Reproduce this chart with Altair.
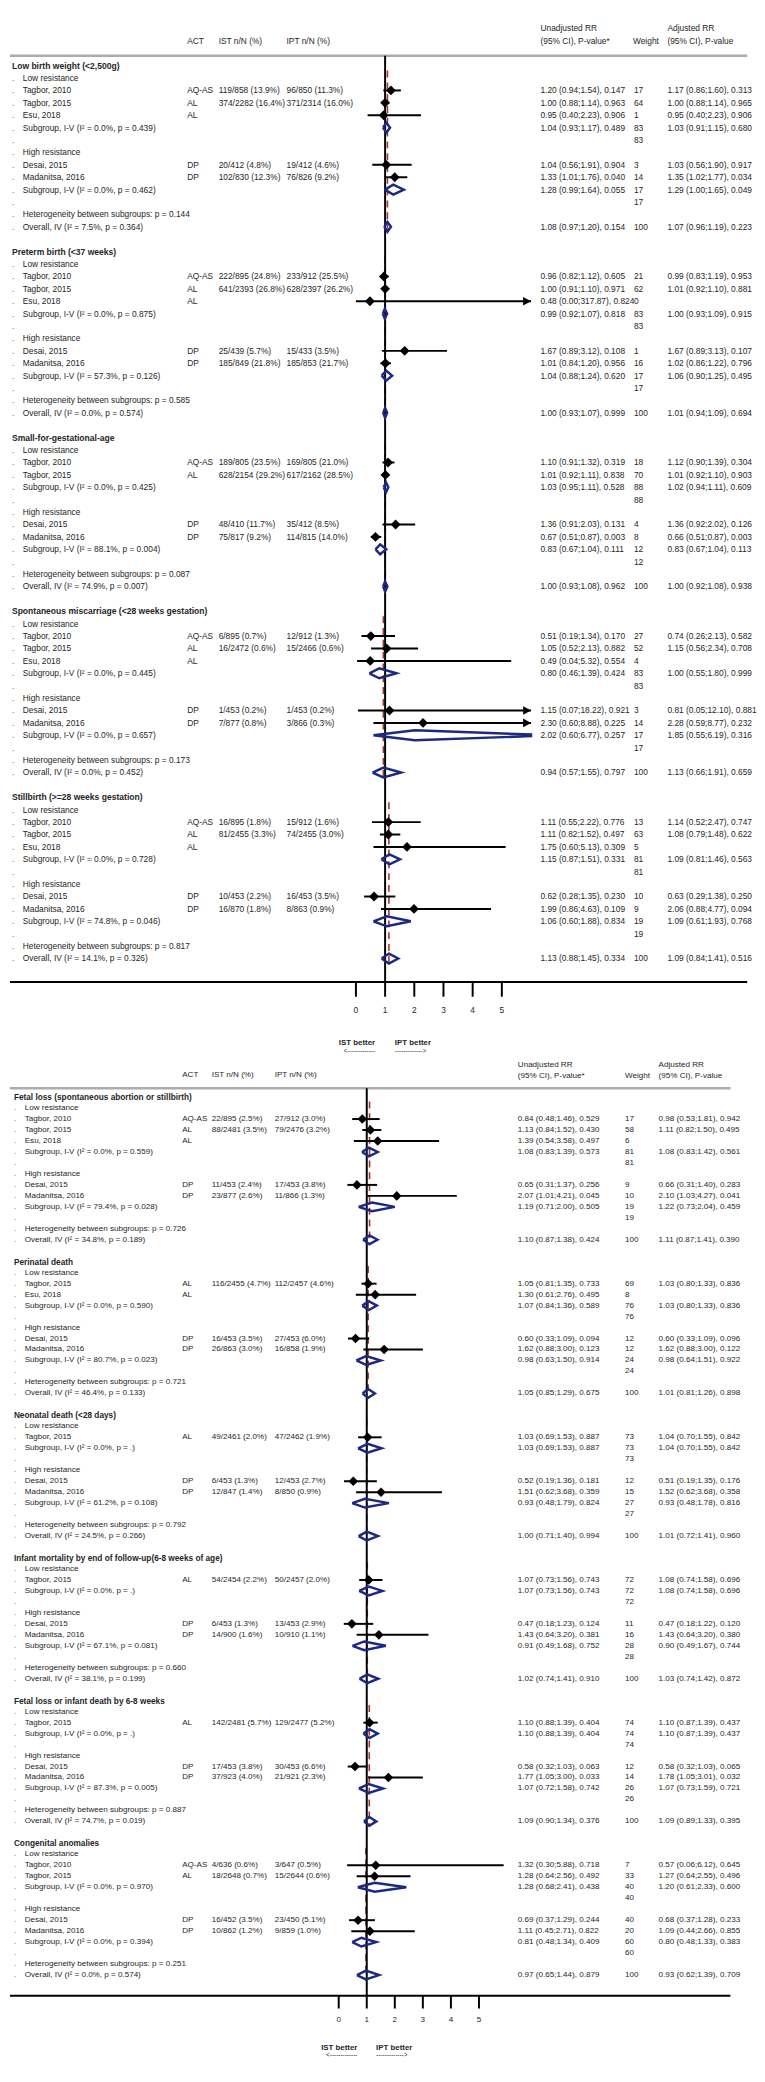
import altair as alt
import pandas as pd

FONT = "Liberation Sans"
INK = "#262626"
NAVY = "#1b2a80"
RED = "#a83232"

# ---------------- data: top panel ----------------
top_lbw = [
    ("title", "Low birth weight (<2,500g)"),
    ("group", "Low resistance"),
    ("study", "Tagbor, 2010", "AQ-AS", "119/858 (13.9%)", "96/850 (11.3%)", 1.20, 0.94, 1.54, "0.147", "17", "1.17 (0.86;1.60), 0.313"),
    ("study", "Tagbor, 2015", "AL", "374/2282 (16.4%)", "371/2314 (16.0%)", 1.00, 0.88, 1.14, "0.963", "64", "1.00 (0.88;1.14), 0.965"),
    ("study", "Esu, 2018", "AL", "", "", 0.95, 0.40, 2.23, "0.906", "1", "0.95 (0.40;2.23), 0.906"),
    ("sub", "Subgroup, I-V (I² = 0.0%, p = 0.439)", 1.04, 0.93, 1.17, "0.489", "83", "1.03 (0.91;1.15), 0.680"),
    ("blank", "83"),
    ("group", "High resistance"),
    ("study", "Desai, 2015", "DP", "20/412 (4.8%)", "19/412 (4.6%)", 1.04, 0.56, 1.91, "0.904", "3", "1.03 (0.56;1.90), 0.917"),
    ("study", "Madanitsa, 2016", "DP", "102/830 (12.3%)", "76/826 (9.2%)", 1.33, 1.01, 1.76, "0.040", "14", "1.35 (1.02;1.77), 0.034"),
    ("sub", "Subgroup, I-V (I² = 0.0%, p = 0.462)", 1.28, 0.99, 1.64, "0.055", "17", "1.29 (1.00;1.65), 0.049"),
    ("blank", "17"),
    ("het", "Heterogeneity between subgroups: p = 0.144"),
    ("overall", "Overall, IV (I² = 7.5%, p = 0.364)", 1.08, 0.97, 1.20, "0.154", "100", "1.07 (0.96;1.19), 0.223"),
    ("gap",),
]
top_preterm = [
    ("title", "Preterm birth (<37 weeks)"),
    ("group", "Low resistance"),
    ("study", "Tagbor, 2010", "AQ-AS", "222/895 (24.8%)", "233/912 (25.5%)", 0.96, 0.82, 1.12, "0.605", "21", "0.99 (0.83;1.19), 0.953"),
    ("study", "Tagbor, 2015", "AL", "641/2393 (26.8%)", "628/2397 (26.2%)", 1.00, 0.91, 1.10, "0.971", "62", "1.01 (0.92;1.10), 0.881"),
    ("study", "Esu, 2018", "AL", "", "", 0.48, 0.00, 317.87, "0.824", "0", ""),
    ("sub", "Subgroup, I-V (I² = 0.0%, p = 0.875)", 0.99, 0.92, 1.07, "0.818", "83", "1.00 (0.93;1.09), 0.915"),
    ("blank", "83"),
    ("group", "High resistance"),
    ("study", "Desai, 2015", "DP", "25/439 (5.7%)", "15/433 (3.5%)", 1.67, 0.89, 3.12, "0.108", "1", "1.67 (0.89;3.13), 0.107"),
    ("study", "Madanitsa, 2016", "DP", "185/849 (21.8%)", "185/853 (21.7%)", 1.01, 0.84, 1.20, "0.956", "16", "1.02 (0.86;1.22), 0.796"),
    ("sub", "Subgroup, I-V (I² = 57.3%, p = 0.126)", 1.04, 0.88, 1.24, "0.620", "17", "1.06 (0.90;1.25), 0.495"),
    ("blank", "17"),
    ("het", "Heterogeneity between subgroups: p = 0.585"),
    ("overall", "Overall, IV (I² = 0.0%, p = 0.574)", 1.00, 0.93, 1.07, "0.999", "100", "1.01 (0.94;1.09), 0.694"),
    ("gap",),
]
top_sga = [
    ("title", "Small-for-gestational-age"),
    ("group", "Low resistance"),
    ("study", "Tagbor, 2010", "AQ-AS", "189/805 (23.5%)", "169/805 (21.0%)", 1.10, 0.91, 1.32, "0.319", "18", "1.12 (0.90;1.39), 0.304"),
    ("study", "Tagbor, 2015", "AL", "628/2154 (29.2%)", "617/2162 (28.5%)", 1.01, 0.92, 1.11, "0.838", "70", "1.01 (0.92;1.10), 0.903"),
    ("sub", "Subgroup, I-V (I² = 0.0%, p = 0.425)", 1.03, 0.95, 1.11, "0.528", "88", "1.02 (0.94;1.11), 0.609"),
    ("blank", "88"),
    ("group", "High resistance"),
    ("study", "Desai, 2015", "DP", "48/410 (11.7%)", "35/412 (8.5%)", 1.36, 0.91, 2.03, "0.131", "4", "1.36 (0.92;2.02), 0.126"),
    ("study", "Madanitsa, 2016", "DP", "75/817 (9.2%)", "114/815 (14.0%)", 0.67, 0.51, 0.87, "0.003", "8", "0.66 (0.51;0.87), 0.003"),
    ("sub", "Subgroup, I-V (I² = 88.1%, p = 0.004)", 0.83, 0.67, 1.04, "0.111", "12", "0.83 (0.67;1.04), 0.113"),
    ("blank", "12"),
    ("het", "Heterogeneity between subgroups: p = 0.087"),
    ("overall", "Overall, IV (I² = 74.9%, p = 0.007)", 1.00, 0.93, 1.08, "0.962", "100", "1.00 (0.92;1.08), 0.938"),
    ("gap",),
]
top_spont = [
    ("title", "Spontaneous miscarriage (<28 weeks gestation)"),
    ("group", "Low resistance"),
    ("study", "Tagbor, 2010", "AQ-AS", "6/895 (0.7%)", "12/912 (1.3%)", 0.51, 0.19, 1.34, "0.170", "27", "0.74 (0.26;2.13), 0.582"),
    ("study", "Tagbor, 2015", "AL", "16/2472 (0.6%)", "15/2466 (0.6%)", 1.05, 0.52, 2.13, "0.882", "52", "1.15 (0.56;2.34), 0.708"),
    ("study", "Esu, 2018", "AL", "", "", 0.49, 0.04, 5.32, "0.554", "4", ""),
    ("sub", "Subgroup, I-V (I² = 0.0%, p = 0.445)", 0.80, 0.46, 1.39, "0.424", "83", "1.00 (0.55;1.80), 0.999"),
    ("blank", "83"),
    ("group", "High resistance"),
    ("study", "Desai, 2015", "DP", "1/453 (0.2%)", "1/453 (0.2%)", 1.15, 0.07, 18.22, "0.921", "3", "0.81 (0.05;12.10), 0.881"),
    ("study", "Madanitsa, 2016", "DP", "7/877 (0.8%)", "3/866 (0.3%)", 2.30, 0.60, 8.88, "0.225", "14", "2.28 (0.59;8.77), 0.232"),
    ("sub", "Subgroup, I-V (I² = 0.0%, p = 0.657)", 2.02, 0.60, 6.77, "0.257", "17", "1.85 (0.55;6.19), 0.316"),
    ("blank", "17"),
    ("het", "Heterogeneity between subgroups: p = 0.173"),
    ("overall", "Overall, IV (I² = 0.0%, p = 0.452)", 0.94, 0.57, 1.55, "0.797", "100", "1.13 (0.66;1.91), 0.659"),
    ("gap",),
]
top_still = [
    ("title", "Stillbirth (>=28 weeks gestation)"),
    ("group", "Low resistance"),
    ("study", "Tagbor, 2010", "AQ-AS", "16/895 (1.8%)", "15/912 (1.6%)", 1.11, 0.55, 2.22, "0.776", "13", "1.14 (0.52;2.47), 0.747"),
    ("study", "Tagbor, 2015", "AL", "81/2455 (3.3%)", "74/2455 (3.0%)", 1.11, 0.82, 1.52, "0.497", "63", "1.08 (0.79;1.48), 0.622"),
    ("study", "Esu, 2018", "AL", "", "", 1.75, 0.60, 5.13, "0.309", "5", ""),
    ("sub", "Subgroup, I-V (I² = 0.0%, p = 0.728)", 1.15, 0.87, 1.51, "0.331", "81", "1.09 (0.81;1.46), 0.563"),
    ("blank", "81"),
    ("group", "High resistance"),
    ("study", "Desai, 2015", "DP", "10/453 (2.2%)", "16/453 (3.5%)", 0.62, 0.28, 1.35, "0.230", "10", "0.63 (0.29;1.38), 0.250"),
    ("study", "Madanitsa, 2016", "DP", "16/870 (1.8%)", "8/863 (0.9%)", 1.99, 0.86, 4.63, "0.109", "9", "2.06 (0.88;4.77), 0.094"),
    ("sub", "Subgroup, I-V (I² = 74.8%, p = 0.046)", 1.06, 0.60, 1.88, "0.834", "19", "1.09 (0.61;1.93), 0.768"),
    ("blank", "19"),
    ("het", "Heterogeneity between subgroups: p = 0.817"),
    ("overall", "Overall, IV (I² = 14.1%, p = 0.326)", 1.13, 0.88, 1.45, "0.334", "100", "1.09 (0.84;1.41), 0.516"),
]

# ---------------- data: bottom panel ----------------
bot_fetal = [
    ("title", "Fetal loss (spontaneous abortion or stillbirth)"),
    ("group", "Low resistance"),
    ("study", "Tagbor, 2010", "AQ-AS", "22/895 (2.5%)", "27/912 (3.0%)", 0.84, 0.48, 1.46, "0.529", "17", "0.98 (0.53;1.81), 0.942"),
    ("study", "Tagbor, 2015", "AL", "88/2481 (3.5%)", "79/2476 (3.2%)", 1.13, 0.84, 1.52, "0.430", "58", "1.11 (0.82;1.50), 0.495"),
    ("study", "Esu, 2018", "AL", "", "", 1.39, 0.54, 3.58, "0.497", "6", ""),
    ("sub", "Subgroup, I-V (I² = 0.0%, p = 0.559)", 1.08, 0.83, 1.39, "0.573", "81", "1.08 (0.83;1.42), 0.561"),
    ("blank", "81"),
    ("group", "High resistance"),
    ("study", "Desai, 2015", "DP", "11/453 (2.4%)", "17/453 (3.8%)", 0.65, 0.31, 1.37, "0.256", "9", "0.66 (0.31;1.40), 0.283"),
    ("study", "Madanitsa, 2016", "DP", "23/877 (2.6%)", "11/866 (1.3%)", 2.07, 1.01, 4.21, "0.045", "10", "2.10 (1.03;4.27), 0.041"),
    ("sub", "Subgroup, I-V (I² = 79.4%, p = 0.028)", 1.19, 0.71, 2.00, "0.505", "19", "1.22 (0.73;2.04), 0.459"),
    ("blank", "19"),
    ("het", "Heterogeneity between subgroups: p = 0.726"),
    ("overall", "Overall, IV (I² = 34.8%, p = 0.189)", 1.10, 0.87, 1.38, "0.424", "100", "1.11 (0.87;1.41), 0.390"),
    ("gap",),
]
bot_peri = [
    ("title", "Perinatal death"),
    ("group", "Low resistance"),
    ("study", "Tagbor, 2015", "AL", "116/2455 (4.7%)", "112/2457 (4.6%)", 1.05, 0.81, 1.35, "0.733", "69", "1.03 (0.80;1.33), 0.836"),
    ("study", "Esu, 2018", "AL", "", "", 1.30, 0.61, 2.76, "0.495", "8", ""),
    ("sub", "Subgroup, I-V (I² = 0.0%, p = 0.590)", 1.07, 0.84, 1.36, "0.589", "76", "1.03 (0.80;1.33), 0.836"),
    ("blank", "76"),
    ("group", "High resistance"),
    ("study", "Desai, 2015", "DP", "16/453 (3.5%)", "27/453 (6.0%)", 0.60, 0.33, 1.09, "0.094", "12", "0.60 (0.33;1.09), 0.096"),
    ("study", "Madanitsa, 2016", "DP", "26/863 (3.0%)", "16/858 (1.9%)", 1.62, 0.88, 3.00, "0.123", "12", "1.62 (0.88;3.00), 0.122"),
    ("sub", "Subgroup, I-V (I² = 80.7%, p = 0.023)", 0.98, 0.63, 1.50, "0.914", "24", "0.98 (0.64;1.51), 0.922"),
    ("blank", "24"),
    ("het", "Heterogeneity between subgroups: p = 0.721"),
    ("overall", "Overall, IV (I² = 46.4%, p = 0.133)", 1.05, 0.85, 1.29, "0.675", "100", "1.01 (0.81;1.26), 0.898"),
    ("gap",),
]
bot_neo = [
    ("title", "Neonatal death (<28 days)"),
    ("group", "Low resistance"),
    ("study", "Tagbor, 2015", "AL", "49/2461 (2.0%)", "47/2462 (1.9%)", 1.03, 0.69, 1.53, "0.887", "73", "1.04 (0.70;1.55), 0.842"),
    ("sub", "Subgroup, I-V (I² = 0.0%, p = .)", 1.03, 0.69, 1.53, "0.887", "73", "1.04 (0.70;1.55), 0.842"),
    ("blank", "73"),
    ("group", "High resistance"),
    ("study", "Desai, 2015", "DP", "6/453 (1.3%)", "12/453 (2.7%)", 0.52, 0.19, 1.36, "0.181", "12", "0.51 (0.19;1.35), 0.176"),
    ("study", "Madanitsa, 2016", "DP", "12/847 (1.4%)", "8/850 (0.9%)", 1.51, 0.62, 3.68, "0.359", "15", "1.52 (0.62;3.68), 0.358"),
    ("sub", "Subgroup, I-V (I² = 61.2%, p = 0.108)", 0.93, 0.48, 1.79, "0.824", "27", "0.93 (0.48;1.78), 0.816"),
    ("blank", "27"),
    ("het", "Heterogeneity between subgroups: p = 0.792"),
    ("overall", "Overall, IV (I² = 24.5%, p = 0.266)", 1.00, 0.71, 1.40, "0.994", "100", "1.01 (0.72;1.41), 0.960"),
    ("gap",),
]
bot_inf = [
    ("title", "Infant mortality by end of follow-up(6-8 weeks of age)"),
    ("group", "Low resistance"),
    ("study", "Tagbor, 2015", "AL", "54/2454 (2.2%)", "50/2457 (2.0%)", 1.07, 0.73, 1.56, "0.743", "72", "1.08 (0.74;1.58), 0.696"),
    ("sub", "Subgroup, I-V (I² = 0.0%, p = .)", 1.07, 0.73, 1.56, "0.743", "72", "1.08 (0.74;1.58), 0.696"),
    ("blank", "72"),
    ("group", "High resistance"),
    ("study", "Desai, 2015", "DP", "6/453 (1.3%)", "13/453 (2.9%)", 0.47, 0.18, 1.23, "0.124", "11", "0.47 (0.18;1.22), 0.120"),
    ("study", "Madanitsa, 2016", "DP", "14/900 (1.6%)", "10/910 (1.1%)", 1.43, 0.64, 3.20, "0.381", "16", "1.43 (0.64;3.20), 0.380"),
    ("sub", "Subgroup, I-V (I² = 67.1%, p = 0.081)", 0.91, 0.49, 1.68, "0.752", "28", "0.90 (0.49;1.67), 0.744"),
    ("blank", "28"),
    ("het", "Heterogeneity between subgroups: p = 0.660"),
    ("overall", "Overall, IV (I² = 38.1%, p = 0.199)", 1.02, 0.74, 1.41, "0.910", "100", "1.03 (0.74;1.42), 0.872"),
    ("gap",),
]
bot_fli = [
    ("title", "Fetal loss or infant death by 6-8 weeks"),
    ("group", "Low resistance"),
    ("study", "Tagbor, 2015", "AL", "142/2481 (5.7%)", "129/2477 (5.2%)", 1.10, 0.88, 1.39, "0.404", "74", "1.10 (0.87;1.39), 0.437"),
    ("sub", "Subgroup, I-V (I² = 0.0%, p = .)", 1.10, 0.88, 1.39, "0.404", "74", "1.10 (0.87;1.39), 0.437"),
    ("blank", "74"),
    ("group", "High resistance"),
    ("study", "Desai, 2015", "DP", "17/453 (3.8%)", "30/453 (6.6%)", 0.58, 0.32, 1.03, "0.063", "12", "0.58 (0.32;1.03), 0.065"),
    ("study", "Madanitsa, 2016", "DP", "37/923 (4.0%)", "21/921 (2.3%)", 1.77, 1.05, 3.00, "0.033", "14", "1.78 (1.05;3.01), 0.032"),
    ("sub", "Subgroup, I-V (I² = 87.3%, p = 0.005)", 1.07, 0.72, 1.58, "0.742", "26", "1.07 (0.73;1.59), 0.721"),
    ("blank", "26"),
    ("het", "Heterogeneity between subgroups: p = 0.887"),
    ("overall", "Overall, IV (I² = 74.7%, p = 0.019)", 1.09, 0.90, 1.34, "0.376", "100", "1.09 (0.89;1.33), 0.395"),
    ("gap",),
]
bot_cong = [
    ("title", "Congenital anomalies"),
    ("group", "Low resistance"),
    ("study", "Tagbor, 2010", "AQ-AS", "4/636 (0.6%)", "3/647 (0.5%)", 1.32, 0.30, 5.88, "0.718", "7", "0.57 (0.06;6.12), 0.645"),
    ("study", "Tagbor, 2015", "AL", "18/2648 (0.7%)", "15/2644 (0.6%)", 1.28, 0.64, 2.56, "0.492", "33", "1.27 (0.64;2.55), 0.496"),
    ("sub", "Subgroup, I-V (I² = 0.0%, p = 0.970)", 1.28, 0.68, 2.41, "0.438", "40", "1.20 (0.61;2.33), 0.600"),
    ("blank", "40"),
    ("group", "High resistance"),
    ("study", "Desai, 2015", "DP", "16/452 (3.5%)", "23/450 (5.1%)", 0.69, 0.37, 1.29, "0.244", "40", "0.68 (0.37;1.28), 0.233"),
    ("study", "Madanitsa, 2016", "DP", "10/862 (1.2%)", "9/859 (1.0%)", 1.11, 0.45, 2.71, "0.822", "20", "1.09 (0.44;2.66), 0.855"),
    ("sub", "Subgroup, I-V (I² = 0.0%, p = 0.394)", 0.81, 0.48, 1.34, "0.409", "60", "0.80 (0.48;1.33), 0.383"),
    ("blank", "60"),
    ("het", "Heterogeneity between subgroups: p = 0.251"),
    ("overall", "Overall, IV (I² = 0.0%, p = 0.574)", 0.97, 0.65, 1.44, "0.879", "100", "0.93 (0.62;1.39), 0.709"),
]

TOP_BLOCKS = [top_lbw, top_preterm, top_sga, top_spont, top_still]
BOT_BLOCKS = [bot_fetal, bot_peri, bot_neo, bot_inf, bot_fli, bot_cong]
TOP_TICKS = [0, 1, 2, 3, 4, 5]
BOT_TICKS = [0, 1, 2, 3, 4, 5]
HEADERS = ["ACT", "IST n/N (%)", "IPT n/N (%)", "Unadjusted RR", "(95% CI), P-value*",
           "Weight", "Adjusted RR", "(95% CI), P-value"]
FOOTER = ["IST better", "<-------------", "IPT better", "------------->"]

# ---------------- layout (styling only) ----------------
TOP_P = dict(xdom=[0, 6], xrange=[351.5, 529.4], ydom=[0, 72], yrange=[42, 42 + 72 * 12.6],
             fs=8.5, tfs=8.7, x_dot=2, x_title=2, x_label=13, x_act=180, x_ist=212, x_ipt=281,
             x_un=539, x_w=634, x_adj=668,
             hpos=[(180, 17), (212, 17), (281, 17), (539, 4), (539, 17), (633, 17), (668, 4), (668, 17)],
             rule_y=32, rule_x2=749, null=(32, 973), axis=(0, 749, 973), tick_len=15, lab_y=1002,
             foot=(371, 391, 1035, 1043), dsize=100, dh=0.4)
BOT_P = dict(xdom=[0, 6], xrange=[334, 505], ydom=[0, 80], yrange=[1090, 1982],
             fs=8.2, tfs=8.4, x_dot=4, x_title=4, x_label=15, x_act=175, x_ist=205, x_ipt=269,
             x_un=516, x_w=625, x_adj=659,
             hpos=[(175, 1068), (205, 1068), (269, 1068), (516, 1057), (516, 1069), (625, 1069), (659, 1057), (659, 1069)],
             rule_y=1081, rule_x2=732, null=(1081, 2003), axis=(0, 732, 2003), tick_len=13, lab_y=2028,
             foot=(353, 372, 2056, 2063), dsize=95, dh=0.4)


def build(blocks):
    recs, info = [], []
    i = 0
    for b in blocks:
        start, ov = i, None
        for t in b:
            k = t[0]
            r = dict(row=i, kind=k, label="", act="", ist="", ipt="", est=None, lo=None, hi=None,
                     pv="", wt="", adj="", dotc="")
            if k in ("title", "group", "het"):
                r["label"] = t[1]
            elif k == "study":
                r.update(label=t[1], act=t[2], ist=t[3], ipt=t[4], est=t[5], lo=t[6], hi=t[7],
                         pv=t[8], wt=t[9], adj=t[10])
            elif k in ("sub", "overall"):
                r.update(label=t[1], est=t[2], lo=t[3], hi=t[4], pv=t[5], wt=t[6], adj=t[7])
            elif k == "blank":
                r["wt"] = t[1]
            if k in ("group", "study", "sub", "blank", "het", "overall"):
                r["dotc"] = "."
            if k == "overall":
                ov = (t[2], i)
            recs.append(r)
            i += 1
        info.append(dict(rr=ov[0], r0=start + 0.4, r1=ov[1] + 0.5))
    df = pd.DataFrame(recs)
    df["unadj"] = [f"{e:.2f} ({l:.2f};{h:.2f}), {p}" if pd.notna(e) else ""
                   for e, l, h, p in zip(df["est"], df["lo"], df["hi"], df["pv"])]
    return df, pd.DataFrame(info)


def diamonds(df, xmax, h):
    recs = []
    for _, r in df[df["kind"].isin(["sub", "overall"])].iterrows():
        e, lo, hi, rw = r["est"], r["lo"], r["hi"], r["row"]
        pts = [(lo, rw), (e, rw - h)]
        if hi > xmax:
            f = h * (hi - xmax) / (hi - e)
            pts += [(xmax, rw - f), (xmax, rw + f)]
        else:
            pts += [(hi, rw)]
        pts += [(e, rw + h), (lo, rw)]
        for j, (a, b) in enumerate(pts):
            recs.append(dict(key=int(rw), ord=j, dx=a, dy=b))
    return pd.DataFrame(recs)


def panel(blocks, P, ticks):
    df, info = build(blocks)
    xmin, xmax = P["xdom"]
    sx = alt.Scale(domain=P["xdom"], range=P["xrange"], nice=False, zero=False)
    sy = alt.Scale(domain=P["ydom"], range=P["yrange"], nice=False, zero=False)

    def X(f):
        return alt.X(f, type="quantitative", scale=sx, axis=None)

    def Y(f):
        return alt.Y(f, type="quantitative", scale=sy, axis=None)

    fs = P["fs"]

    def txt(data, field, x, bold=False, size=None, color=INK):
        return alt.Chart(data).mark_text(
            align="left", baseline="middle", font=FONT, fontSize=size or fs,
            fontWeight="bold" if bold else "normal", color=color
        ).encode(x=alt.value(x), y=Y("row"), text=alt.Text(f"{field}:N"))

    def fixed(s, x, y, bold=False, align="left", size=None):
        return alt.Chart(pd.DataFrame({"s": [s]})).mark_text(
            align=align, baseline="middle", font=FONT, fontSize=size or fs,
            fontWeight="bold" if bold else "normal", color=INK
        ).encode(x=alt.value(x), y=alt.value(y), text="s:N")

    L = []
    for s, (hx, hy) in zip(HEADERS, P["hpos"]):
        L.append(fixed(s, hx, hy))
    L.append(alt.Chart(pd.DataFrame({"k": [0]})).mark_rule(color="#ababab", strokeWidth=2.5).encode(
        x=alt.value(0), x2=alt.value(P["rule_x2"]), y=alt.value(P["rule_y"])))
    # overall-effect dashed lines
    L.append(alt.Chart(info).mark_rule(color=RED, strokeWidth=1.6, strokeDash=[7, 5]).encode(
        x=X("rr"), y=Y("r0"), y2="r1"))
    # null line
    L.append(alt.Chart(pd.DataFrame({"rr": [1.0]})).mark_rule(color="black", strokeWidth=2).encode(
        x=X("rr"), y=alt.value(P["null"][0]), y2=alt.value(P["null"][1])))
    st = df[df["kind"] == "study"].copy()
    st["lo_c"] = st["lo"].clip(lower=xmin)
    st["hi_c"] = st["hi"].clip(upper=xmax)
    st["cap"] = xmax
    L.append(alt.Chart(st).mark_rule(color="black", strokeWidth=2).encode(
        x=X("lo_c"), x2="hi_c", y=Y("row")))
    arr = st[st["hi"] > xmax]
    if len(arr):
        L.append(alt.Chart(arr).mark_point(shape="M-1,-0.55L0,0L-1,0.55Z", filled=True, color="black",
                                           size=256, opacity=1).encode(x=X("cap"), y=Y("row")))
    L.append(alt.Chart(st).mark_point(shape="diamond", filled=True, color="black",
                                      size=P["dsize"], opacity=1).encode(x=X("est"), y=Y("row")))
    dd = diamonds(df, xmax, P["dh"])
    L.append(alt.Chart(dd).mark_line(color=NAVY, strokeWidth=2.5, strokeJoin="miter").encode(
        x=X("dx"), y=Y("dy"), detail="key:N", order="ord:Q"))
    # row texts
    L.append(txt(df[df["kind"] == "title"], "label", P["x_title"], bold=True, size=P["tfs"]))
    L.append(txt(df[df["dotc"] == "."], "dotc", P["x_dot"], color="#555555"))
    L.append(txt(df[df["kind"].isin(["group", "study", "sub", "het", "overall"])], "label", P["x_label"]))
    L.append(txt(st, "act", P["x_act"]))
    L.append(txt(st, "ist", P["x_ist"]))
    L.append(txt(st, "ipt", P["x_ipt"]))
    L.append(txt(df[df["unadj"] != ""], "unadj", P["x_un"]))
    L.append(txt(df[df["wt"] != ""], "wt", P["x_w"]))
    L.append(txt(df[df["adj"] != ""], "adj", P["x_adj"]))
    # axis
    ax0, ax1, ay = P["axis"]
    L.append(alt.Chart(pd.DataFrame({"k": [0]})).mark_rule(color="black", strokeWidth=2).encode(
        x=alt.value(ax0), x2=alt.value(ax1), y=alt.value(ay)))
    tk = pd.DataFrame({"t": ticks})
    L.append(alt.Chart(tk).mark_rule(color="black", strokeWidth=2).encode(
        x=X("t"), y=alt.value(ay), y2=alt.value(ay + P["tick_len"])))
    L.append(alt.Chart(tk).mark_text(font=FONT, fontSize=fs, color=INK, baseline="middle", align="center").encode(
        x=X("t"), y=alt.value(P["lab_y"]), text=alt.Text("t:Q", format="d")))
    # footer
    fx1, fx2, fy1, fy2 = P["foot"]
    L.append(fixed(FOOTER[0], fx1, fy1, bold=True, align="right", size=8))
    L.append(fixed(FOOTER[1], fx1, fy2, align="right", size=6.5))
    L.append(fixed(FOOTER[2], fx2, fy1, bold=True, align="left", size=8))
    L.append(fixed(FOOTER[3], fx2, fy2, align="left", size=6.5))
    return L


layers = panel(TOP_BLOCKS, TOP_P, TOP_TICKS) + panel(BOT_BLOCKS, BOT_P, BOT_TICKS)
chart = alt.layer(*layers).resolve_scale(x="independent", y="independent").properties(
    width=752, height=2066, padding=0, background="white"
).configure_view(stroke=None)

chart.save("out.html", embed_options={"renderer": "svg", "actions": False})
